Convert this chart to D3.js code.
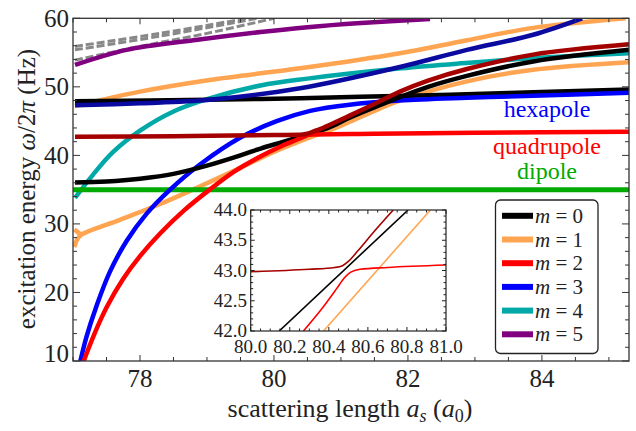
<!DOCTYPE html>
<html>
<head>
<meta charset="utf-8">
<script src="https://cdn.jsdelivr.net/npm/d3@7/dist/d3.min.js"></script>
<style>
  html, body { margin: 0; padding: 0; background: #fff; }
  svg { display: block; }
  svg text { font-family: "Liberation Serif", "DejaVu Serif", "Times New Roman", Times, serif; fill: #222; }
</style>
</head>
<body>
<svg id="chart" width="636" height="431"></svg>
<script>
// ---------------- data ----------------
const xTicks = [78, 80, 82, 84];
const yTicks = [10, 20, 30, 40, 50, 60];
const insetXTicks = [80.0, 80.2, 80.4, 80.6, 80.8, 81.0];
const insetYTicks = [42.0, 42.5, 43.0, 43.5, 44.0];

const legendLabels = ["0", "1", "2", "3", "4", "5"];
const legendColors = ["#000000", "#ffa552", "#ff0000", "#0000ff", "#00a8a8", "#800080"];

// curves: [scattering length a_s, energy]
const m0Lower = [[77.03,36.05],[77.5,36.2],[78.0,36.6],[78.5,37.3],[79.0,38.5],[79.5,40.0],[79.8,41.0],[80.146,42.0],[80.5,43.07],[80.806,44.0],[81.13,45.5],[81.5,47.0],[81.88,48.5],[82.3,50.0],[82.88,51.6],[83.87,53.7],[85.3,55.4]];
const m0Upper = [[77.03,47.9],[79.0,48.1],[80.4,48.35],[82.0,48.7],[83.5,49.1],[85.3,49.6]];
const m1Upper = [[77.03,47.2],[78.0,49.3],[79.04,51.0],[80.39,52.7],[81.88,54.9],[82.88,56.8],[83.87,58.6],[85.25,60.0]];
const m1Lower = [[77.02,26.6],[77.06,27.7],[77.12,28.4],[77.7,30.6],[78.3,32.9],[78.9,35.5],[79.5,38.2],[80.0,40.5],[80.373,42.0],[80.92,44.0],[81.13,44.9],[81.5,46.5],[81.88,48.0],[82.88,50.8],[83.87,52.5],[85.3,53.6]];
const m1Spur = [[77.02,29.2],[77.07,28.8],[77.12,28.45]];
const m2Rising = [[77.16,10.0],[77.3,13.5],[77.5,17.8],[77.75,22.0],[78.0,25.3],[78.3,28.6],[78.65,31.9],[79.04,35.0],[79.4,37.6],[79.79,39.8],[80.1,41.3],[80.27,42.0],[80.44,42.7],[80.51,42.97],[80.6,43.05],[81.5,43.15],[83.0,43.3],[85.3,43.45]];
const m2Flat = [[77.03,42.7],[78.5,42.8],[80.0,42.97],[80.43,43.05],[80.5,43.15],[80.62,43.6],[80.73,44.0],[81.13,45.8],[81.5,47.5],[81.88,49.3],[82.3,50.9],[82.88,52.6],[83.87,54.7],[85.3,56.2]];
const m3Lower = [[77.11,10.0],[77.2,13.5],[77.35,18.0],[77.55,23.0],[77.8,27.5],[78.1,31.5],[78.45,35.0],[78.9,38.7],[79.5,42.6],[80.04,45.0],[80.54,46.5],[81.13,47.4],[81.88,48.0],[82.88,48.4],[83.87,48.7],[85.3,49.15]];
const m3Upper = [[77.03,47.3],[78.0,47.6],[79.04,48.1],[80.39,49.8],[81.88,52.9],[82.88,55.4],[83.87,57.6],[84.6,60.0]];
const m4 = [[77.03,33.8],[77.3,37.2],[77.6,40.5],[78.0,43.6],[78.5,46.4],[79.0,48.2],[79.8,50.2],[80.5,51.2],[81.9,52.7],[82.9,53.5],[83.9,54.2],[85.3,54.9]];
const m5 = [[77.03,53.2],[77.8,55.4],[78.8,56.8],[79.8,58.0],[80.5,58.7],[81.3,59.3],[82.33,59.9]];
const gray1 = [[77.03,55.9],[78.3,57.8],[79.6,60.0]];
const gray2 = [[77.03,55.4],[78.3,57.4],[79.75,60.0]];
const gray3 = [[77.03,53.9],[78.0,55.9],[79.0,57.8],[80.0,60.0]];
const dipoleLevel = 35.0;

// inset curves
const inBlack = [[80.146,42.0],[80.806,44.0]];
const inOrange = [[80.373,42.0],[80.92,44.0]];
const inDarkRed = [[80.0,42.98],[80.3,43.02],[80.43,43.05],[80.47,43.08],[80.5,43.15],[80.55,43.33],[80.62,43.6],[80.73,44.0]];
const inRed = [[80.27,42.0],[80.36,42.35],[80.44,42.7],[80.48,42.88],[80.51,42.97],[80.56,43.02],[80.7,43.05],[81.0,43.09]];

// ---------------- drawing ----------------
const FONT = "Liberation Serif, DejaVu Serif, Times New Roman, serif";
const svg = d3.select("#chart");
const L = 73, R = 629, T = 18.3, B = 361;
const x = d3.scaleLinear().domain([77, 85.3]).range([L, R]);
const y = d3.scaleLinear().domain([10, 60]).range([B, T]);

svg.append("defs").append("clipPath").attr("id", "clipMain")
  .append("rect").attr("x", L).attr("y", T).attr("width", R - L).attr("height", B - T);

const gMain = svg.append("g").attr("clip-path", "url(#clipMain)");
const line = d3.line().x(d => x(d[0])).y(d => y(d[1])).curve(d3.curveCatmullRom.alpha(0.5));

function draw(g, data, color, w, dash) {
  const p = g.append("path").datum(data).attr("d", line)
    .attr("fill", "none").attr("stroke", color).attr("stroke-width", w)
    .attr("stroke-linecap", "butt").attr("stroke-linejoin", "round");
  if (dash) p.attr("stroke-dasharray", dash);
  return p;
}
function txt(g, xx, yy, size, s) {
  return g.append("text").attr("x", xx).attr("y", yy).attr("font-size", size)
    .attr("font-family", FONT).text(s);
}

draw(gMain, gray1, "#888888", 3, "8,3");
draw(gMain, gray2, "#888888", 3, "8,3");
draw(gMain, gray3, "#888888", 3, "8,3");
draw(gMain, m5, "#800080", 4.5);
draw(gMain, m4, "#00a8a8", 4.5);
draw(gMain, m1Upper, "#ffa552", 4.5);
draw(gMain, m1Lower, "#ffa552", 4.5);
draw(gMain, m1Spur, "#ffa552", 4.5);
gMain.append("line").attr("x1", x(77)).attr("x2", x(85.3))
  .attr("y1", y(dipoleLevel)).attr("y2", y(dipoleLevel))
  .attr("stroke", "#00aa00").attr("stroke-width", 5);
draw(gMain, m0Upper, "#000000", 4.5);
draw(gMain, m3Upper, "#0a0aa0", 4.5);
draw(gMain, m3Lower, "#0000ff", 4.5);
draw(gMain, m0Lower, "#000000", 4.5);
draw(gMain, m2Rising, "#ff0000", 4.5);
draw(gMain, m2Flat, "#a50000", 4.5);

// frame
const frame = svg.append("g");
frame.append("rect").attr("x", L).attr("y", T).attr("width", R - L).attr("height", B - T)
  .attr("fill", "none").attr("stroke", "#333").attr("stroke-width", 1.3);

d3.range(77, 85.31, 0.5).forEach(v => {
  const big = xTicks.includes(v);
  const len = big ? 6 : 4;
  frame.append("line").attr("x1", x(v)).attr("x2", x(v)).attr("y1", B).attr("y2", B - len)
    .attr("stroke", "#333").attr("stroke-width", 1);
  frame.append("line").attr("x1", x(v)).attr("x2", x(v)).attr("y1", T).attr("y2", T + len)
    .attr("stroke", "#333").attr("stroke-width", 1);
});
xTicks.forEach(v => {
  txt(svg, x(v), 387, 25, v).attr("text-anchor", "middle");
});
d3.range(10, 60.01, 2).forEach(v => {
  const big = yTicks.includes(v);
  const len = big ? 7 : 4;
  frame.append("line").attr("x1", L).attr("x2", L + len).attr("y1", y(v)).attr("y2", y(v))
    .attr("stroke", "#333").attr("stroke-width", 1);
  frame.append("line").attr("x1", R).attr("x2", R - len).attr("y1", y(v)).attr("y2", y(v))
    .attr("stroke", "#333").attr("stroke-width", 1);
});
yTicks.forEach(v => {
  const shift = v === 10 ? -8 : 0;
  txt(svg, 69, y(v) + 8.5 + shift, 25, v).attr("text-anchor", "end");
});

// axis titles
const xt = txt(svg, 350, 417, 26, null).attr("text-anchor", "middle");
xt.append("tspan").text("scattering length ");
xt.append("tspan").attr("font-style", "italic").text("a");
xt.append("tspan").attr("font-style", "italic").attr("font-size", 18).attr("dy", 5).text("s");
xt.append("tspan").attr("dy", -5).text(" (");
xt.append("tspan").attr("font-style", "italic").text("a");
xt.append("tspan").attr("font-size", 18).attr("dy", 5).text("0");
xt.append("tspan").attr("dy", -5).text(")");

const yt = svg.append("text").attr("transform", "translate(35,189) rotate(-90)")
  .attr("text-anchor", "middle").attr("font-size", 25).attr("font-family", FONT);
yt.append("tspan").text("excitation energy ");
yt.append("tspan").attr("font-style", "italic").text("ω");
yt.append("tspan").text("/2");
yt.append("tspan").attr("font-style", "italic").text("π");
yt.append("tspan").text(" (Hz)");

// mode labels
txt(svg, 547, 117, 24, "hexapole").attr("text-anchor", "middle").style("fill", "#0000ff");
txt(svg, 547, 154, 24, "quadrupole").attr("text-anchor", "middle").style("fill", "#ff0000");
txt(svg, 547, 179, 24, "dipole").attr("text-anchor", "middle").style("fill", "#00aa00");

// ---------------- inset ----------------
const iL = 250.7, iR = 446, iT = 210, iB = 331;
const xi = d3.scaleLinear().domain([80, 81]).range([iL, iR]);
const yi = d3.scaleLinear().domain([42, 44]).range([iB, iT]);
const gIn = svg.append("g");
gIn.append("rect").attr("x", iL).attr("y", iT).attr("width", iR - iL).attr("height", iB - iT)
  .attr("fill", "#fff");
gIn.append("clipPath").attr("id", "clipIn").append("rect")
  .attr("x", iL).attr("y", iT).attr("width", iR - iL).attr("height", iB - iT);
const gInC = gIn.append("g").attr("clip-path", "url(#clipIn)");
const lineIn = d3.line().x(d => xi(d[0])).y(d => yi(d[1])).curve(d3.curveMonotoneX);
function drawIn(data, color) {
  gInC.append("path").datum(data).attr("d", lineIn).attr("fill", "none")
    .attr("stroke", color).attr("stroke-width", 1.6);
}
drawIn(inOrange, "#ffa552");
drawIn(inBlack, "#000000");
drawIn(inRed, "#ff0000");
drawIn(inDarkRed, "#a50000");

gIn.append("rect").attr("x", iL).attr("y", iT).attr("width", iR - iL).attr("height", iB - iT)
  .attr("fill", "none").attr("stroke", "#222").attr("stroke-width", 1.2);
d3.range(80, 81.001, 0.05).forEach((v, i) => {
  const len = (i % 4 === 0) ? 4 : 2.5;
  gIn.append("line").attr("x1", xi(v)).attr("x2", xi(v)).attr("y1", iB).attr("y2", iB - len).attr("stroke", "#222");
  gIn.append("line").attr("x1", xi(v)).attr("x2", xi(v)).attr("y1", iT).attr("y2", iT + len).attr("stroke", "#222");
});
d3.range(42, 44.001, 0.1).forEach((v, i) => {
  const len = (i % 5 === 0) ? 4 : 2.5;
  gIn.append("line").attr("x1", iL).attr("x2", iL + len).attr("y1", yi(v)).attr("y2", yi(v)).attr("stroke", "#222");
  gIn.append("line").attr("x1", iR).attr("x2", iR - len).attr("y1", yi(v)).attr("y2", yi(v)).attr("stroke", "#222");
});
insetXTicks.forEach(v => {
  txt(gIn, xi(v), 353, 19, v.toFixed(1)).attr("text-anchor", "middle");
});
insetYTicks.forEach(v => {
  txt(gIn, 247, yi(v) + 6, 19, v.toFixed(1)).attr("text-anchor", "end");
});

// ---------------- legend ----------------
const lg = svg.append("g");
lg.append("rect").attr("x", 495.5).attr("y", 200).attr("width", 102.5).attr("height", 153.5)
  .attr("rx", 5).attr("fill", "#fff").attr("stroke", "#222").attr("stroke-width", 1.3);
legendLabels.forEach((lab, i) => {
  const cy = 215.8 + i * 23.7;
  lg.append("line").attr("x1", 502).attr("x2", 533).attr("y1", cy).attr("y2", cy)
    .attr("stroke", legendColors[i]).attr("stroke-width", 6);
  const t = txt(lg, 535, cy + 7, 21, null);
  t.append("tspan").attr("font-style", "italic").text("m");
  t.append("tspan").text(" = " + lab);
});
</script>
</body>
</html>
